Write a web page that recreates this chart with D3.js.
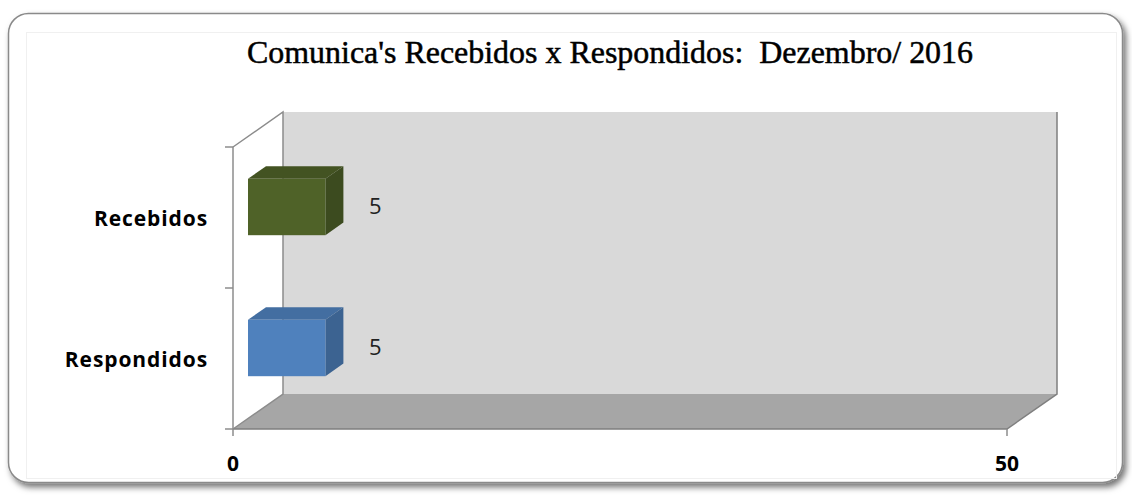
<!DOCTYPE html>
<html>
<head>
<meta charset="utf-8">
<script src="https://cdn.jsdelivr.net/npm/d3@7"></script>
<style>
  body { margin: 0; background: #fff; }
</style>
</head>
<body>
<div id="chart"></div>
<script>
// data
const categories = ["Recebidos", "Respondidos"]
const values = [5, 5]
const barColors = ["#4f6228", "#4f81bd"]
const xTicks = [0, 50]
const title = "Comunica's Recebidos x Respondidos:  Dezembro/ 2016"

// dimensions
const width = 1132, height = 496
const plot = { left: 233, right: 1007, top: 147, bottom: 429 }
const depth = { dx: 50, dy: -35 }     // wall depth
const barFront = 0.3, barBack = 0.66  // bar position within depth

const svg = d3.select("#chart").append("svg")
    .attr("width", width)
    .attr("height", height)

const defs = svg.append("defs")
const f = defs.append("filter").attr("id", "shadow")
    .attr("x", "-5%").attr("y", "-5%").attr("width", "110%").attr("height", "115%")
f.append("feDropShadow").attr("dx", 3).attr("dy", 4).attr("stdDeviation", 3)
    .attr("flood-color", "#000").attr("flood-opacity", 0.55)

// frame
svg.append("rect")
    .attr("x", 8.5).attr("y", 13.5)
    .attr("width", 1114).attr("height", 469)
    .attr("rx", 20)
    .attr("fill", "#fff")
    .attr("stroke", "#8a8a8a")
    .attr("stroke-width", 1.5)
    .attr("filter", "url(#shadow)")
svg.append("rect")
    .attr("x", 26.5).attr("y", 32.5)
    .attr("width", 1090).attr("height", 446)
    .attr("fill", "none")
    .attr("stroke", "#f0f0f0")

// title
svg.append("text")
    .attr("x", 610).attr("y", 63)
    .attr("text-anchor", "middle")
    .attr("font-family", "'Liberation Serif', serif")
    .attr("font-size", 32)
    .attr("textLength", 726)
    .attr("lengthAdjust", "spacingAndGlyphs")
    .attr("fill", "#000")
    .attr("stroke", "#000")
    .attr("stroke-width", 0.5)
    .style("white-space", "pre")
    .text(title)

// scales
const xScale = d3.scaleLinear()
    .domain(d3.extent(xTicks))
    .range([plot.left, plot.right])

const yScale = d3.scaleBand()
    .domain(categories)
    .range([plot.top, plot.bottom])
    .paddingInner(0.6)
    .paddingOuter(0.3)

const yBand = d3.scaleBand()
    .domain(categories)
    .range([plot.top, plot.bottom])

// walls
const x0 = plot.left, x1 = plot.right
svg.append("rect")
    .attr("x", x0 + depth.dx).attr("y", plot.top + depth.dy)
    .attr("width", x1 - x0).attr("height", plot.bottom - plot.top)
    .attr("fill", "#d9d9d9")
svg.append("polygon")
    .attr("points", [[x0, plot.bottom], [x1, plot.bottom],
        [x1 + depth.dx, plot.bottom + depth.dy], [x0 + depth.dx, plot.bottom + depth.dy]].join(" "))
    .attr("fill", "#a6a6a6")
// wall edges
const edge = svg.append("g").attr("stroke", "#8c8c8c").attr("fill", "none").attr("stroke-width", 1.5)
edge.append("path").attr("d", d3.line()([[x0, plot.top], [x0 + depth.dx, plot.top + depth.dy],
    [x0 + depth.dx, plot.bottom + depth.dy], [x0, plot.bottom]]))
edge.append("path").attr("d", d3.line()([[x1 + depth.dx, plot.top + depth.dy],
    [x1 + depth.dx, plot.bottom + depth.dy], [x1, plot.bottom], [x0, plot.bottom]]))
    .attr("stroke", "#7f7f7f")

// axes
const yAxis = svg.append("g")
    .attr("stroke", "#8c8c8c").attr("stroke-width", 1.5)
yAxis.append("line")
    .attr("x1", x0).attr("x2", x0)
    .attr("y1", plot.top).attr("y2", plot.bottom)
const yTickPos = categories.map(c => yBand(c)).concat([plot.bottom])
yAxis.selectAll(".yt").data(yTickPos).join("line")
    .attr("x1", x0 - 8).attr("x2", x0)
    .attr("y1", d => d).attr("y2", d => d)
yAxis.selectAll(".xt").data(xTicks).join("line")
    .attr("x1", d => xScale(d)).attr("x2", d => xScale(d))
    .attr("y1", plot.bottom).attr("y2", plot.bottom + 7)

svg.append("g").selectAll("text")
    .data(xTicks).join("text")
    .attr("x", d => xScale(d))
    .attr("y", 471)
    .attr("text-anchor", "middle")
    .attr("font-family", "'Open Sans', sans-serif")
    .attr("font-weight", "bold")
    .attr("font-size", 21)
    .text(d => d)

svg.append("g").selectAll("text")
    .data(categories).join("text")
    .attr("x", 208)
    .attr("y", c => yBand(c) + yBand.bandwidth() / 2 + 8.5)
    .attr("text-anchor", "end")
    .attr("font-family", "'Open Sans', sans-serif")
    .attr("font-weight", "bold")
    .attr("font-size", 21)
    .attr("letter-spacing", 0.9)
    .text(c => c)

// bars
const fdx = depth.dx * barFront, fdy = depth.dy * barFront
const bdx = depth.dx * barBack, bdy = depth.dy * barBack
const bars = svg.append("g").selectAll("g")
    .data(categories.map((c, i) => ({ c, v: values[i], color: barColors[i] })))
    .join("g")

bars.each(function (d) {
    const g = d3.select(this)
    const xa = xScale(0) + fdx, xb = xScale(d.v) + fdx
    const ya = yScale(d.c) + fdy, yb = ya + yScale.bandwidth()
    const ddx = bdx - fdx, ddy = bdy - fdy
    const base = d3.color(d.color)
    // top
    g.append("polygon")
        .attr("points", [[xa, ya], [xb, ya], [xb + ddx, ya + ddy], [xa + ddx, ya + ddy]].join(" "))
        .attr("fill", base.darker(0.45))
    // side
    g.append("polygon")
        .attr("points", [[xb, ya], [xb + ddx, ya + ddy], [xb + ddx, yb + ddy], [xb, yb]].join(" "))
        .attr("fill", base.darker(0.75))
    // front
    g.append("rect")
        .attr("x", xa).attr("y", ya)
        .attr("width", xb - xa).attr("height", yb - ya)
        .attr("fill", base)
    // value label
    g.append("text")
        .attr("x", xb + ddx + 32)
        .attr("y", (ya + yb) / 2 + 7)
        .attr("text-anchor", "middle")
        .attr("font-family", "'Open Sans', sans-serif")
        .attr("font-size", 22)
        .attr("fill", "#222")
        .text(d.v)
})
</script>
</body>
</html>
